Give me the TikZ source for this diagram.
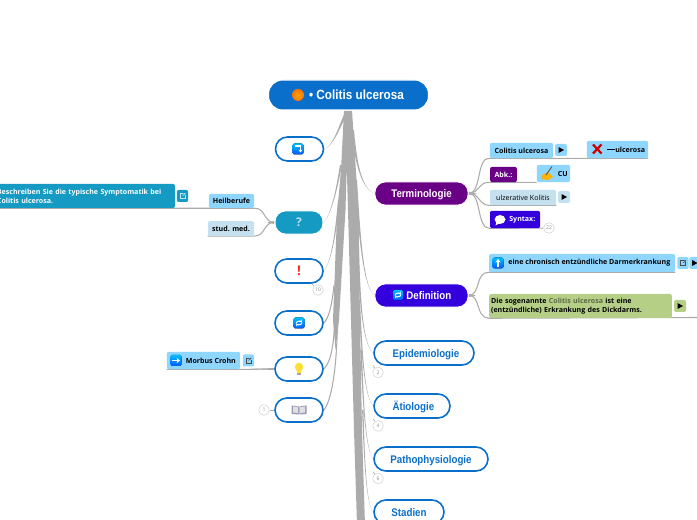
\documentclass[tikz,border=0pt]{standalone}
\usepackage{fontspec}
\setmainfont{Open Sans}
\newfontfamily\labelfont[FakeStretch=0.88]{Liberation Sans}
\usetikzlibrary{arrows.meta,calc,backgrounds}
\definecolor{blueM}{HTML}{0A6FCB}
\definecolor{teal}{HTML}{149AC3}
\definecolor{purp}{HTML}{6A0085}
\definecolor{indi}{HTML}{3300DD}
\definecolor{sky}{HTML}{8FD6FF}
\definecolor{pale}{HTML}{C5E0EE}
\definecolor{olive}{HTML}{B5CF87}
\definecolor{edge}{HTML}{ABABAB}
\tikzset{
 x=0.75pt,y=-0.75pt,
 topic/.style={draw=blueM,line width=1.2pt,fill=white,rounded corners=9pt,inner sep=0pt,text height=7pt,text depth=0.4pt,
   font=\labelfont\bfseries\fontsize{8.3pt}{10pt}\selectfont,text=blueM},
 solid topic/.style={draw=white,line width=0.8pt,rounded corners=8pt,inner sep=0pt,text=white,text height=7pt,text depth=0.4pt,
   font=\labelfont\bfseries\fontsize{8.3pt}{10pt}\selectfont},
 tag/.style={rounded corners=1.5pt,inner sep=0pt,font=\bfseries\fontsize{5.3pt}{6.6pt}\selectfont,text=black},
 conn/.style={draw=edge,line width=0.8pt},
 wedge/.style={fill=edge,draw=none},
 count/.style={circle,draw=black!15,line width=0.5pt,fill=white,inner sep=0pt,minimum size=8pt,
   font=\fontsize{3.8pt}{4pt}\selectfont,text=black!45},
}
\newcommand{\playmark}[1]{\fill[black] ($(#1)+(-2.5,-3)$) -- ($(#1)+(3,0)$) -- ($(#1)+(-2.5,3)$) -- cycle;}
\newcommand{\sharemark}[2]{%
 \draw[line width=0.35pt,#2] ($(#1)+(0.8,-2.5)$) -- ($(#1)+(-2.5,-2.5)$) -- ($(#1)+(-2.5,2.5)$) -- ($(#1)+(2.5,2.5)$) -- ($(#1)+(2.5,-0.8)$);
 \draw[line width=0.35pt,#2,-{Stealth[length=1.6pt,width=1.6pt]}] ($(#1)+(0,0)$) -- ($(#1)+(3,-3)$);}
\newcommand{\bluetile}[1]{\fill[rounded corners=1.2pt,top color=cyan!75!blue,bottom color=blue!65!cyan] ($(#1)+(-5.5,-5.5)$) rectangle ($(#1)+(5.5,5.5)$);}
\newcommand{\cyclemark}[1]{%
 \draw[white,line width=0.7pt,-{Stealth[length=2pt,width=2.4pt]}] ($(#1)+(-3,0.5)$) arc[start angle=190,end angle=330,radius=3];
 \draw[white,line width=0.7pt,-{Stealth[length=2pt,width=2.4pt]}] ($(#1)+(3,-0.5)$) arc[start angle=10,end angle=150,radius=3];}
\newcommand{\taper}[5]{\fill[wedge] (#1) .. controls (#2) and (#3) .. (#4) -- ($(#4)+(#5,0)$) .. controls ($(#3)+(#5*0.6,0)$) and ($(#2)+(#5*0.15,0)$) .. (#1) -- cycle;}
\begin{document}
\begin{tikzpicture}
\useasboundingbox (0,0) rectangle (697,520);
\clip (0,0) rectangle (697,520);

% ---- topics
\node[solid topic,fill=blueM,rounded corners=10.5pt,minimum width=120pt,minimum height=22.5pt,text height=7.5pt,text depth=1.2pt,font=\labelfont\bfseries\fontsize{10pt}{11pt}\selectfont] (root) at (348.5,95) {\hspace{12pt}• Colitis ulcerosa};
\node[topic,minimum width=36pt,minimum height=18pt] (q1) at (299.5,149) {};
\node[solid topic,fill=teal,minimum width=36pt,minimum height=17.5pt,font=\bfseries\fontsize{9pt}{10pt}\selectfont,text=white!70!teal] (q2) at (299,222.5) {?};
\node[topic,minimum width=36pt,minimum height=18pt,text=red!85!white,font=\bfseries\fontsize{10pt}{10pt}\selectfont] (q3) at (299,271) {!};
\node[topic,minimum width=36pt,minimum height=18pt] (q4) at (299,323) {};
\node[topic,minimum width=36pt,minimum height=18pt] (q5) at (299,369) {};
\node[topic,minimum width=36pt,minimum height=18pt] (q6) at (299,410) {};
\node[solid topic,fill=purp,minimum width=70pt,minimum height=17.5pt] (term) at (421.5,193.5) {Terminologie};
\node[solid topic,fill=indi,minimum width=70pt,minimum height=17.5pt] (defn) at (421.5,295.5) {\hspace{11pt}Definition};
\node[topic,minimum width=75pt,minimum height=18pt] (epi) at (424,353) {\hspace{3pt}Epidemiologie};
\node[topic,minimum width=57pt,minimum height=18pt] (aet) at (412,406) {\hspace{2pt}Ätiologie};
\node[topic,minimum width=85.5pt,minimum height=18pt] (pat) at (431,459) {Pathophysiologie};
\node[topic,minimum width=52.5pt,minimum height=18pt] (sta) at (409,512) {Stadien};

% ---- terminologie children
\node[tag,fill=sky,minimum width=47.5pt,minimum height=11.5pt] (col) at (521.5,150.5) {Colitis ulcerosa};
\node[tag,fill=sky,minimum width=9pt,minimum height=9pt] (colp) at (561,150) {};
\node[tag,fill=sky,minimum width=46pt,minimum height=13pt] (colx) at (617.5,149.5) {\hspace{13pt}\rule[1.6pt]{6pt}{0.4pt}ulcerosa};
\node[tag,fill=purp,text=white,minimum width=20pt,minimum height=11.5pt] (abk) at (503.5,174.5) {Abk.:};
\node[tag,fill=sky,minimum width=25pt,minimum height=13pt] (cu) at (553.5,173.5) {\hspace{14pt}CU};
\node[tag,fill=pale,font=\fontsize{5.3pt}{6.6pt}\selectfont,minimum width=49.5pt,minimum height=11.5pt] (ulz) at (523,197.5) {ulzerative Kolitis};
\node[tag,fill=pale,minimum width=9pt,minimum height=9pt] (ulzp) at (564,197) {};
\node[tag,fill=indi,text=white,minimum width=37.5pt,minimum height=13pt] (syn) at (515,219.5) {\hspace{11pt}Syntax:};
\node[count] (cs) at (549,228) {22};

% ---- definition children
\node[tag,fill=sky,minimum width=139.5pt,minimum height=13.5pt] (chr) at (582,263) {\hspace{11pt}eine chronisch entzündliche Darmerkrankung};
\node[tag,fill=sky,minimum width=8.5pt,minimum height=9pt] (chrs) at (683,263) {};
\node[tag,fill=sky,minimum width=7pt,minimum height=9pt] (chrp) at (694,263) {};
\node[tag,fill=olive,minimum width=137pt,minimum height=18pt,text width=134pt,align=left] (grn) at (580.5,306) {Die sogenannte \textcolor{black!50!olive}{Colitis ulcerosa} ist eine\\(entzündliche) Erkrankung des Dickdarms.};
\node[tag,fill=olive,minimum width=9pt,minimum height=9pt] (grnp) at (680,306) {};

% ---- question children
\node[tag,fill=teal,text=white,minimum width=135pt,minimum height=18pt,text width=132pt,align=left] (bes) at (85,196) {Beschreiben Sie die typische Symptomatik bei\\Colitis ulcerosa.};
\node[tag,fill=teal,minimum width=8.5pt,minimum height=9pt] (bess) at (182.5,196) {};
\node[tag,fill=sky,minimum width=34pt,minimum height=10.5pt] (hei) at (231.5,201) {Heilberufe};
\node[tag,fill=pale,minimum width=34.5pt,minimum height=11pt] (stu) at (231,228.5) {stud. med.};
\node[tag,fill=sky,minimum width=55pt,minimum height=13pt] (mor) at (203.5,360.5) {\hspace{11pt}Morbus Crohn};
\node[tag,fill=sky,minimum width=8.5pt,minimum height=9pt] (mors) at (248.5,360.5) {};

% ---- counters
\node[count] (c3) at (318,290) {10};
\node[count] (c6) at (264,410) {1};
\node[count] (ce) at (378,372.5) {2};
\node[count] (ca) at (378,426) {4};
\node[count] (cp) at (378,478.5) {6};

% ---- icons
\shade[inner color=orange!70!yellow,outer color=orange!90!red] (298,95) circle[radius=6];
\bluetile{298,149}
\draw[white,line width=0.9pt,-{Stealth[length=2.2pt,width=3pt]}] (295,146) -- (300.5,146) -- (300.5,152.5);
\bluetile{299,323}\cyclemark{299,323}
\fill[rounded corners=1pt,top color=cyan!75!blue,bottom color=blue!65!cyan] (393,290) rectangle (403,300);
\cyclemark{398,295}
\fill[yellow!75!orange!80!white] (299,367) circle[radius=4.2];
\fill[yellow!75!orange!80!white] (296.5,369) -- (301.5,369) -- (300.8,373) -- (297.2,373) -- cycle;
\fill[black!35] (297.3,373) rectangle (300.7,375);
\fill[blue!30!black!40] (291.5,405.5) -- (298.8,406.5) -- (298.8,414.5) -- (291.5,414) -- cycle;
\fill[blue!30!black!40] (306.5,405.5) -- (299.4,406.5) -- (299.4,414.5) -- (306.5,414) -- cycle;
\fill[black!12] (293,406.5) -- (298,407.2) -- (298,413) -- (293,412.5) -- cycle;
\fill[black!12] (305,406.5) -- (300.2,407.2) -- (300.2,413) -- (305,412.5) -- cycle;
\draw[red!80!black,line width=1.7pt] (593,144.5) -- (601.5,153.5) (601.5,144.5) -- (593,153.5);
\fill[orange!60!yellow] (541,179) .. controls (541,174) and (546,172) .. (549,173) -- (553,177) -- (548,180) -- cycle;
\draw[black!65,line width=0.7pt] (546,175) -- (552,166.5);
\fill[white] (500,219.5) ellipse[x radius=5.5,y radius=4.5];
\fill[white] (496.5,222) -- (495.5,225.5) -- (500,223) -- cycle;
\bluetile{498,263}
\draw[white,line width=0.9pt,-{Stealth[length=2.6pt,width=4pt]}] (498,267) -- (498,259);
\bluetile{176,360.5}
\draw[white,line width=0.9pt,-{Stealth[length=2.6pt,width=4pt]}] (172,360.5) -- (180,360.5);
\playmark{colp}
\playmark{ulzp}
\playmark{grnp}
\playmark{$(chrp)+(0.5,0)$}
\sharemark{chrs}{black!70}
\sharemark{mors}{black!70}
\sharemark{bess}{white!75!teal}

% ---- connectors
\begin{scope}[on background layer]
 \fill[wedge] ($(root.south)+(-4.5,0)$) -- ($(root.south)+(3.5,0)$) -- (358.5,210) -- (360,320) -- (362,430) -- (365,525)
   -- (357,525) -- (354,430) -- (351,320) -- (348,210) -- (346.7,166) -- (345.5,210) -- (339,320) -- (335.5,350)
   -- (333,320) -- (337,215) -- (341,170) -- cycle;
 \taper{q1.east}{333,146}{338,128}{345,112}{3}
 \taper{q2.east}{331,215}{336,190}{340,165}{2}
 \taper{q3.east}{331,262}{335,235}{338,200}{2}
 \draw[conn] (q4.east) .. controls (329,318) and (332,305) .. (334,285);
 \draw[conn] (q5.east) .. controls (331,362) and (334,345) .. (335,315);
 \draw[conn] (q6.east) .. controls (331,402) and (337,370) .. (337.5,320);
 \taper{term.west}{362,188}{357,165}{354,130}{-3}
 \taper{defn.west}{365,288}{361,250}{357,180}{-2.5}
 \taper{epi.west}{365,345}{361,320}{359,250}{-2}
 \taper{aet.west}{366,398}{363,370}{360,300}{-1.8}
 \taper{pat.west}{367,451}{364,420}{362,350}{-1.6}
 \taper{sta.west}{367,505}{365,470}{363.5,410}{-1.4}
 % terminologie
 \draw[conn] (term.east) .. controls (482,193) and (476,157.5) .. (col.south west) -- (colx.south east);
 \draw[conn] (term.east) .. controls (480,193) and (478,181.5) .. (abk.south west) -- (cu.south west);
 \draw[conn] (term.east) .. controls (480,193) and (478,205) .. (ulz.south west) -- (ulz.south east);
 \draw[conn] (term.east) .. controls (482,193) and (476,228) .. (syn.south west) -- (cs);
 \fill[wedge] ($(term.east)+(0,-1.5)$) -- (477,193.5) -- ($(term.east)+(0,1.5)$) -- cycle;
 % definition
 \draw[conn] (defn.east) .. controls (481,295) and (475,272) .. (chr.south west) -- (chr.south east);
 \draw[conn] (defn.east) .. controls (481,295) and (475,317.5) .. (grn.south west) -- (697,317.5);
 \fill[wedge] ($(defn.east)+(0,-1.5)$) -- (476,295.5) -- ($(defn.east)+(0,1.5)$) -- cycle;
 % question
 \draw[conn] (q2.west) .. controls (263,222) and (266,208) .. (hei.south east) -- (hei.south west) -- (bes.south west);
 \draw[conn] (q2.west) .. controls (263,222) and (266,236) .. (stu.south east) -- (stu.south west);
 \fill[wedge] ($(q2.west)+(0,-1.5)$) -- (267,222.5) -- ($(q2.west)+(0,1.5)$) -- cycle;
 % others
 \draw[conn] (q5.west) -- (mor.south east) -- (mor.south west);
 \fill[wedge] ($(q5.west)+(0,-1)$) -- (250,369) -- ($(q5.west)+(0,1)$) -- cycle;
 \draw[conn,line width=0.5pt] (q6) -- (c6);
 \draw[conn,line width=0.5pt] (q3) -- (c3);
 \draw[conn,line width=0.5pt] (epi.south west) -- (ce);
 \draw[conn,line width=0.5pt] (aet.south west) -- (ca);
 \draw[conn,line width=0.5pt] (pat.south west) -- (cp);
\end{scope}
\end{tikzpicture}
\end{document}
